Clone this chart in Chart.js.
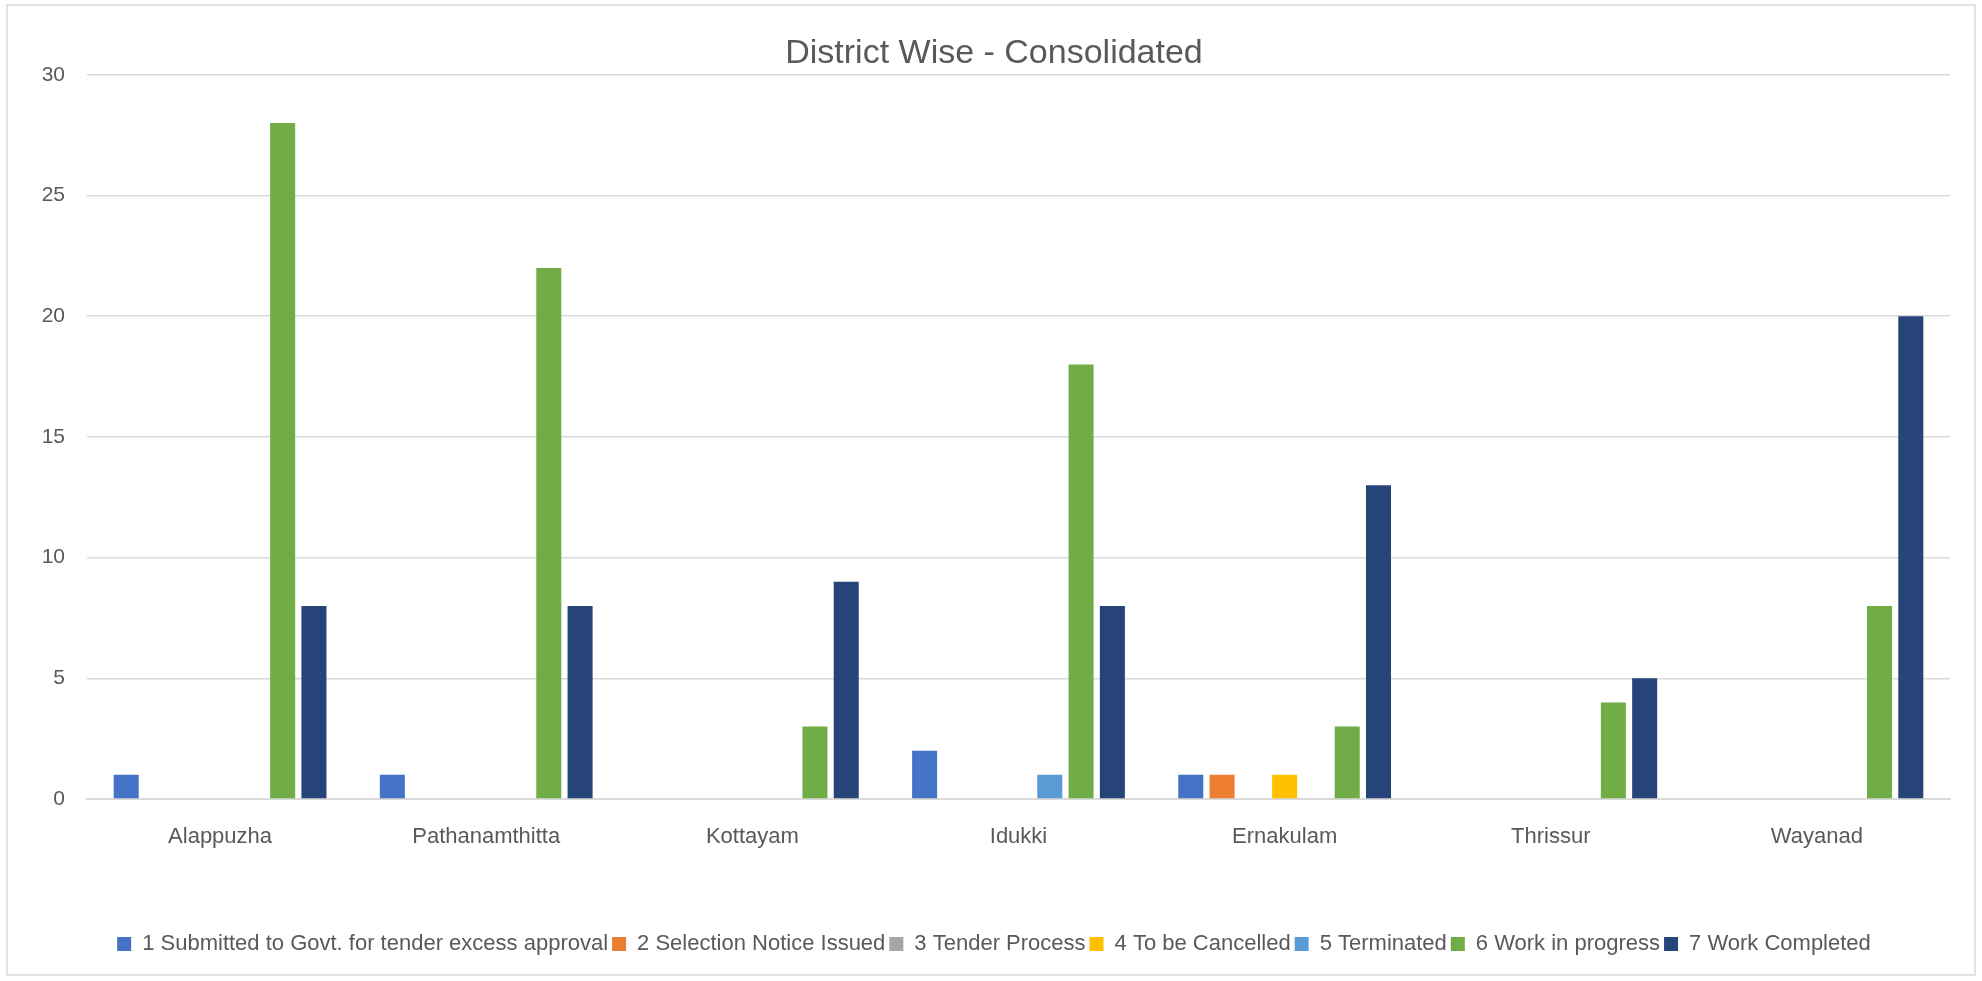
<!DOCTYPE html>
<html>
<head>
<meta charset="utf-8">
<title>District Wise - Consolidated</title>
<script src="https://cdn.jsdelivr.net/npm/chart.js@4.4.1/dist/chart.umd.min.js"></script>
<style>
  html, body { margin: 0; padding: 0; background: #fff; }
  #wrap { position: relative; width: 1982px; height: 981px; }
</style>
</head>
<body>
<div id="wrap"><canvas id="districtChart"></canvas></div>
<script>
const districts = ["Alappuzha", "Pathanamthitta", "Kottayam", "Idukki", "Ernakulam", "Thrissur", "Wayanad"];

const submittedForApproval = [1, 1, 0, 2, 1, 0, 0];
const selectionNoticeIssued = [0, 0, 0, 0, 1, 0, 0];
const tenderProcess = [0, 0, 0, 0, 0, 0, 0];
const toBeCancelled = [0, 0, 0, 0, 1, 0, 0];
const terminated = [0, 0, 0, 1, 0, 0, 0];
const workInProgress = [28, 22, 3, 18, 3, 4, 8];
const workCompleted = [8, 8, 9, 8, 13, 5, 20];

const seriesNames = [
  "1 Submitted to Govt. for tender excess approval",
  "2 Selection Notice Issued",
  "3 Tender Process",
  "4 To be Cancelled",
  "5 Terminated",
  "6 Work in progress",
  "7 Work Completed"
];
const seriesColors = ["#4472C4", "#ED7D31", "#A5A5A5", "#FFC000", "#5B9BD5", "#70AD47", "#264478"];
const seriesValues = [submittedForApproval, selectionNoticeIssued, tenderProcess, toBeCancelled, terminated, workInProgress, workCompleted];

const yTicks = [0, 5, 10, 15, 20, 25, 30];

const FONT = "'Liberation Sans', Arial, sans-serif";
const TEXT_COLOR = "#595959";
const GRID_COLOR = "#D9D9D9";

// light grey outline round the whole chart area, like the Excel chart frame
const frame = {
  id: "frame",
  beforeDraw(chart) {
    const ctx = chart.ctx;
    ctx.save();
    ctx.strokeStyle = GRID_COLOR;
    ctx.lineWidth = 1.5;
    ctx.strokeRect(7, 5, 1968, 970);
    ctx.restore();
  }
};

new Chart(document.getElementById("districtChart"), {
  type: "bar",
  data: {
    labels: districts,
    datasets: seriesNames.map((name, i) => ({
      label: name,
      data: seriesValues[i],
      backgroundColor: seriesColors[i],
      borderWidth: 0,
      categoryPercentage: 0.823,
      barPercentage: 0.8
    }))
  },
  options: {
    responsive: true,
    maintainAspectRatio: false,
    animation: false,
    devicePixelRatio: 1,
    layout: {
      padding: { top: 8, left: 38, right: 32, bottom: 16 }
    },
    plugins: {
      title: {
        display: true,
        text: "District Wise - Consolidated",
        color: TEXT_COLOR,
        font: { family: FONT, size: 34, weight: "normal" },
        padding: { top: 25, bottom: 1 }
      },
      legend: {
        position: "bottom",
        labels: {
          color: TEXT_COLOR,
          font: { family: FONT, size: 22 },
          boxWidth: 14,
          boxHeight: 14,
          padding: 4
        }
      },
      tooltip: { enabled: false }
    },
    scales: {
      x: {
        grid: { display: false, drawTicks: false },
        border: { display: true, color: GRID_COLOR, width: 2 },
        ticks: {
          color: TEXT_COLOR,
          font: { family: FONT, size: 22 },
          padding: 25,
          maxRotation: 0
        },
        afterFit(axis) {
          axis.height = 130;
        }
      },
      y: {
        min: 0,
        max: 30,
        afterBuildTicks(axis) {
          axis.ticks = yTicks.map(v => ({ value: v }));
        },
        afterFit(axis) {
          axis.width = 49;
        },
        grid: { color: GRID_COLOR, lineWidth: 1.5, drawTicks: false },
        border: { display: false },
        ticks: {
          color: TEXT_COLOR,
          font: { family: FONT, size: 21 },
          padding: 22
        }
      }
    }
  },
  plugins: [frame]
});
</script>
</body>
</html>
